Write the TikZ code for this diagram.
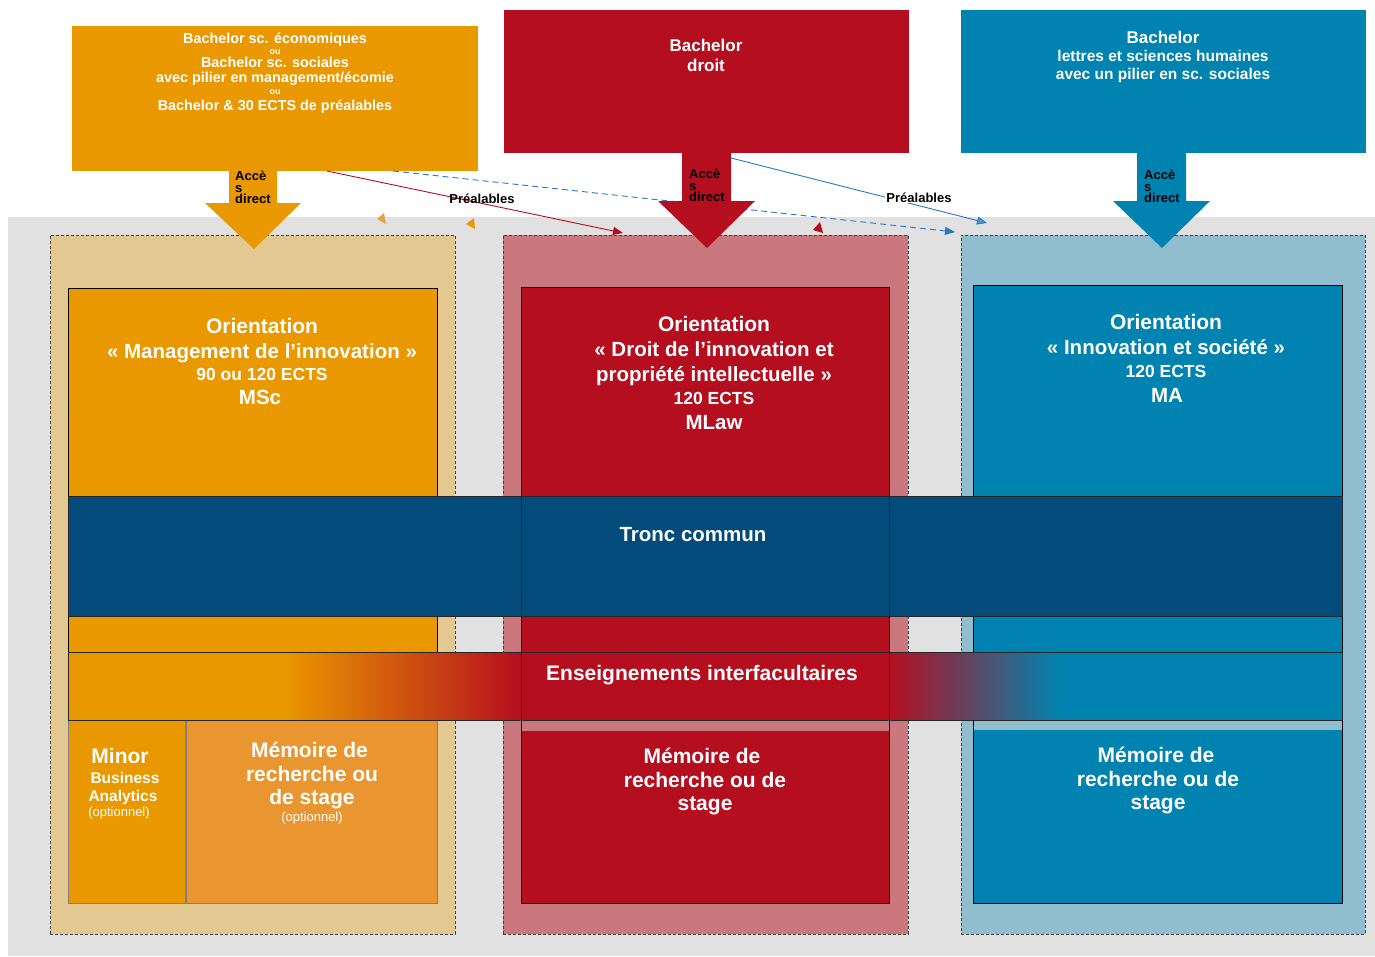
\documentclass[tikz,border=0pt]{standalone}
\usepackage{fontspec}
\setmainfont{Liberation Sans}
\usetikzlibrary{arrows.meta}
\newcommand\myfs[1]{\fontsize{#1}{#1}\selectfont}
\definecolor{orangeC}{RGB}{234,152,0}
\definecolor{memoC}{RGB}{234,150,48}
\definecolor{redC}{RGB}{181,15,31}
\definecolor{blueC}{RGB}{0,131,176}
\definecolor{navyC}{RGB}{3,75,123}
\definecolor{oOutC}{RGB}{228,200,145}
\definecolor{rOutC}{RGB}{202,120,125}
\definecolor{bOutC}{RGB}{145,190,206}
\definecolor{grayC}{RGB}{225,225,225}
\definecolor{lineBlue}{RGB}{40,120,200}
\definecolor{tipBlue}{RGB}{90,150,205}
\definecolor{tipOrange}{RGB}{227,164,72}
\tikzset{
  box/.style={rectangle, anchor=north west, inner sep=0pt, outer sep=0pt},
  outerbox/.style={box, draw=black!75, densely dashed, line width=0.7pt},
  innerbox/.style={box, draw=black, line width=1pt},
  lowbox/.style={box, draw=black!50, line width=0.8pt},
  band/.style={box, draw=black!85, line width=1pt},
  txt/.style={anchor=base, inner sep=0pt, text=white, font=\bfseries\myfs{#1}},
  ltxt/.style={anchor=base, inner sep=0pt, text=white, font=\myfs{#1}},
  acc/.style={anchor=base west, inner sep=0pt, text=black, font=\bfseries\myfs{13}},
  prea/.style={anchor=base, inner sep=0pt, text=black, font=\bfseries\myfs{13}},
  tipA/.style={-{Triangle[length=10pt,width=8pt]}},
}
\begin{document}
\begin{tikzpicture}[x=1pt,y=-1pt]
\useasboundingbox (0,0) rectangle (1375,956);
\fill[white] (0,0) rectangle (1375,956);
\fill[grayC] (8,217) rectangle (1375,956);

% top boxes
\node[box, fill=orangeC, minimum width=406pt, minimum height=145pt] (otop) at (72,26) {};
\node[box, fill=redC, minimum width=405pt, minimum height=143pt] (rtop) at (504,10) {};
\node[box, fill=blueC, minimum width=405pt, minimum height=143pt] (btop) at (961,10) {};

% outer columns
\node[outerbox, fill=oOutC, minimum width=405pt, minimum height=699pt] (oOut) at (50,235) {};
\node[outerbox, fill=rOutC, minimum width=405pt, minimum height=699pt] (rOut) at (503,235) {};
\node[outerbox, fill=bOutC, minimum width=404pt, minimum height=699pt] (bOut) at (961,235) {};

% inner columns
\node[innerbox, fill=orangeC, minimum width=369pt, minimum height=432pt] (oIn) at (68,288) {};
\node[innerbox, fill=redC, minimum width=368pt, minimum height=616pt] (rIn) at (521,287) {};
\node[innerbox, fill=blueC, minimum width=369pt, minimum height=618pt] (bIn) at (973,285) {};

% bottom parts
\node[lowbox, fill=orangeC, minimum width=117pt, minimum height=183pt] (minor) at (68,720) {};
\node[lowbox, fill=memoC, minimum width=251pt, minimum height=183pt] (memo) at (186,720) {};
\node[box, fill=rOutC, minimum width=367pt, minimum height=10pt] (rstrip) at (521.5,721) {};
\node[box, fill=bOutC, minimum width=368pt, minimum height=9pt] (bstrip) at (973.5,721) {};

% Tronc commun band
\node[band, fill=navyC, minimum width=1274pt, minimum height=120pt] (tronc) at (68,496) {};
\draw[black!85, line width=0.8pt] (tronc.north -| rIn.west) -- (tronc.south -| rIn.west);
\draw[black!85, line width=0.8pt] (tronc.north -| rIn.east) -- (tronc.south -| rIn.east);

% Enseignements band (gradient)
\fill[orangeC] (68,652) rectangle (283,720);
\shade[left color=orangeC, right color=redC] (283,652) rectangle (521,720);
\fill[redC] (521,652) rectangle (889,720);
\shade[left color=redC, right color=blueC] (889,652) rectangle (1060,720);
\fill[blueC] (1060,652) rectangle (1342,720);
\node[band, minimum width=1274pt, minimum height=68pt] (ens) at (68,652) {};
\draw[black!85, line width=0.8pt] (ens.north -| rIn.west) -- (ens.south -| rIn.west);
\draw[black!85, line width=0.8pt] (ens.north -| rIn.east) -- (ens.south -| rIn.east);

% connectors
\coordinate (c1s) at (327,171);
\coordinate (c1e) at (623,233);
\coordinate (c2s) at (393,171);
\coordinate (c2e) at (955,232);
\coordinate (c3s) at (731,158);
\coordinate (c3e) at (987,223);
\draw[redC, line width=0.9pt, tipA] (c1s) -- (c1e);
\draw[lineBlue, line width=0.9pt, dash pattern=on 6pt off 4pt, tipA] (c2s) -- (c2e);
\draw[lineBlue, line width=0.9pt, -{Triangle[length=10pt,width=8pt,fill=tipBlue]}] (c3s) -- (c3e);
\node[prea] (pr1) at (482,203) {Préalables};
\node[prea, fill=white, inner sep=1pt] (pr2) at (919,202) {Préalables};

% block arrows
\fill[orangeC] (229,170) -- (277,170) -- (277,203) -- (301,203) -- (254,249) -- (205,203) -- (229,203) -- cycle;
\fill[redC] (682,152) -- (731,152) -- (731,201) -- (755,201) -- (707,248) -- (658,201) -- (682,201) -- cycle;
\fill[blueC] (1137,152) -- (1186,152) -- (1186,201) -- (1210,201) -- (1162,248) -- (1113,201) -- (1137,201) -- cycle;

% stray arrow tips
\fill[tipOrange] (377,219) -- (384,213) -- (386,224) -- cycle;
\fill[orangeC] (466,224) -- (474,218) -- (475,229) -- cycle;
\fill[redC] (813,230) -- (820,222) -- (823,233) -- cycle;

% Accès direct labels
\node[acc] (ao1) at (235,180) {Accè};
\node[acc] (ao2) at (235,192) {s};
\node[acc] (ao3) at (235,203) {direct};
\node[acc] (ar1) at (689,178) {Accè};
\node[acc] (ar2) at (689,190) {s};
\node[acc] (ar3) at (689,201) {direct};
\node[acc] (ab1) at (1144,179) {Accè};
\node[acc] (ab2) at (1144,191) {s};
\node[acc] (ab3) at (1144,202) {direct};

% top texts
\node[txt=14.4] (to1) at (275,43) {Bachelor sc. économiques};
\node[txt=9] (to2) at (275,54) {ou};
\node[txt=14.4] (to3) at (275,67) {Bachelor sc. sociales};
\node[txt=14.4] (to4) at (275,82) {avec pilier en management/écomie};
\node[txt=9] (to5) at (275,94) {ou};
\node[txt=14.4] (to6) at (275,110) {Bachelor \& 30 ECTS de préalables};
\node[txt=17] (tr1) at (706,51) {Bachelor};
\node[txt=17] (tr2) at (706,71) {droit};
\node[txt=17] (tb1) at (1163,43) {Bachelor};
\node[txt=15.5] (tb2) at (1163,61) {lettres et sciences humaines};
\node[txt=15.5] (tb3) at (1163,79) {avec un pilier en sc. sociales};

% orientation texts
\node[txt=21] (oo1) at (262,333) {Orientation};
\node[txt=20.5] (oo2) at (262,358) {« Management de l’innovation »};
\node[txt=17.5] (oo3) at (262,380) {90 ou 120 ECTS};
\node[txt=20.5] (oo4) at (260,404) {MSc};
\node[txt=21] (or1) at (714,331) {Orientation};
\node[txt=20.5] (or2) at (714,356) {« Droit de l’innovation et};
\node[txt=20.5] (or3) at (714,381) {propriété intellectuelle »};
\node[txt=17.5] (or4) at (714,404) {120 ECTS};
\node[txt=20.5] (or5) at (714,429) {MLaw};
\node[txt=21] (ob1) at (1166,329) {Orientation};
\node[txt=20.5] (ob2) at (1166,354) {« Innovation et société »};
\node[txt=17.5] (ob3) at (1166,377) {120 ECTS};
\node[txt=20.5] (ob4) at (1167,402) {MA};

% bands
\node[txt=20.5] (tc) at (693,541) {Tronc commun};
\node[txt=21] (ei) at (702,680) {Enseignements interfacultaires};

% bottom texts
\node[txt=21] (mi1) at (120,763) {Minor};
\node[txt=15.5] (mi2) at (125,783) {Business};
\node[txt=15.5] (mi3) at (123,801) {Analytics};
\node[ltxt=13] (mi4) at (119,816) {(optionnel)};
\node[txt=21] (mo1) at (309.5,757) {Mémoire de};
\node[txt=21] (mo2) at (312,781) {recherche ou};
\node[txt=21] (mo3) at (312,804) {de stage};
\node[ltxt=13] (mo4) at (312,821) {(optionnel)};
\node[txt=21] (mr1) at (702,763) {Mémoire de};
\node[txt=21] (mr2) at (705,787) {recherche ou de};
\node[txt=21] (mr3) at (705,810) {stage};
\node[txt=21] (mb1) at (1156,762) {Mémoire de};
\node[txt=21] (mb2) at (1158,786) {recherche ou de};
\node[txt=21] (mb3) at (1158,809) {stage};
\end{tikzpicture}
\end{document}
